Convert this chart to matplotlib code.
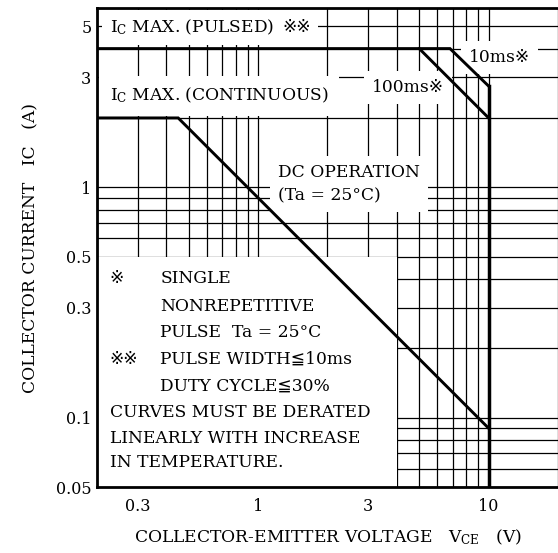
import matplotlib
matplotlib.use("Agg")
import matplotlib.pyplot as plt
from matplotlib.ticker import FixedLocator, FuncFormatter

plt.rcParams['font.family'] = ['DejaVu Serif', 'DejaVu Sans', 'Noto Sans CJK JP']
plt.rcParams['mathtext.fontset'] = 'dejavuserif'

# safe operating area boundaries (V_CE in V, I_C in A)
pulsed_v = [0.2, 6.8, 10]
pulsed_i = [4, 4, 2.75]
ms100_v = [5.0, 10]
ms100_i = [4, 2.0]
dc_v = [0.2, 0.45, 10]
dc_i = [2, 2, 0.09]
vceo_v = [10, 10]
vceo_i = [2.75, 0.05]

x_grid = [0.2, 0.3, 0.4, 0.5, 0.6, 0.7, 0.8, 0.9, 1, 2, 3, 4, 5, 6, 7, 8, 9, 10, 20]
y_grid = [0.05, 0.06, 0.07, 0.08, 0.09, 0.1, 0.2, 0.3, 0.4, 0.5, 0.6, 0.7, 0.8, 0.9,
          1, 2, 3, 4, 5, 6]
x_labels = {0.3: "0.3", 1: "1", 3: "3", 10: "10"}
y_labels = {0.05: "0.05", 0.1: "0.1", 0.3: "0.3", 0.5: "0.5", 1: "1", 3: "3", 5: "5"}

notes = [
    (0.227, 0.40, "※"), (0.376, 0.40, "SINGLE"),
    (0.376, 0.305, "NONREPETITIVE"),
    (0.376, 0.235, "PULSE  Ta = 25°C"),
    (0.227, 0.179, "※※"), (0.376, 0.179, "PULSE WIDTH≦10ms"),
    (0.376, 0.137, "DUTY CYCLE≦30%"),
    (0.227, 0.105, "CURVES MUST BE DERATED"),
    (0.227, 0.081, "LINEARLY WITH INCREASE"),
    (0.227, 0.0636, "IN TEMPERATURE."),
]

fs = 12.3
tfs = 11.5
fig = plt.figure(figsize=(5.58, 5.53), dpi=100)
ax = fig.add_axes([0.1738, 0.1193, 0.8262, 0.8662])
ax.set_xscale("log")
ax.set_yscale("log")
ax.set_xlim(0.2, 20)
ax.set_ylim(0.05, 6)

ax.xaxis.set_major_locator(FixedLocator(x_grid))
ax.yaxis.set_major_locator(FixedLocator(y_grid))
ax.xaxis.set_minor_locator(FixedLocator([]))
ax.yaxis.set_minor_locator(FixedLocator([]))
ax.xaxis.set_major_formatter(FuncFormatter(lambda v, p: next((s for k, s in x_labels.items() if abs(k - v) < 1e-9), "")))
ax.yaxis.set_major_formatter(FuncFormatter(lambda v, p: next((s for k, s in y_labels.items() if abs(k - v) < 1e-9), "")))
ax.tick_params(axis="both", length=0, labelsize=tfs)
ax.tick_params(axis="x", pad=8)
ax.tick_params(axis="y", pad=4)
ax.grid(True, color="black", linewidth=0.9, zorder=1)
ax.set_axisbelow(True)

for s in ["left", "bottom", "top"]:
    ax.spines[s].set_linewidth(2)
ax.spines["right"].set_visible(False)

# notes block hides the grid in the lower left
ax.add_patch(plt.Rectangle((0.2, 0.05), 4.0 - 0.2, 0.5 - 0.05, facecolor="white",
                           edgecolor="none", zorder=2))

lw = 2.1
ax.plot(pulsed_v, pulsed_i, color="black", linewidth=lw, zorder=4, solid_joinstyle="miter")
ax.plot(ms100_v, ms100_i, color="black", linewidth=lw, zorder=4)
ax.plot(dc_v, dc_i, color="black", linewidth=lw, zorder=4, solid_joinstyle="miter")
ax.plot(vceo_v, vceo_i, color="black", linewidth=lw + 0.4, zorder=4)

box = dict(boxstyle="square,pad=0.45", facecolor="white", edgecolor="none")
t = ax.text(0.227, 4.95, r"$\mathrm{I_C}$ MAX. (PULSED)", fontsize=fs, va="center", ha="left",
            bbox=box, zorder=3)
ax.annotate("※※", xy=(1, 0.5), xycoords=t, xytext=(6, 0), textcoords="offset points",
            fontsize=fs, va="center", ha="left", bbox=box, zorder=3)
ax.text(0.227, 2.5, r"$\mathrm{I_C}$ MAX. (CONTINUOUS)", fontsize=fs, va="center", ha="left",
        bbox=dict(boxstyle="square,pad=0.6", facecolor="white", edgecolor="none"), zorder=3)
ax.text(3.12, 2.71, "100ms※", fontsize=fs, va="center", ha="left", bbox=box, zorder=3)
ax.text(8.2, 3.66, "10ms※", fontsize=fs, va="center", ha="left", bbox=box, zorder=3)
ax.text(1.22, 1.03, "DC OPERATION\n(Ta = 25°C)", fontsize=fs, va="center", ha="left",
        linespacing=1.5, bbox=box, zorder=3)

for x, y, s in notes:
    ax.text(x, y, s, fontsize=fs, va="center", ha="left", zorder=5)

ax.set_xlabel(r"COLLECTOR-EMITTER VOLTAGE   $\mathrm{V_{CE}}$   (V)", fontsize=fs, labelpad=9)
ax.set_ylabel("COLLECTOR CURRENT   IC   (A)", fontsize=fs, labelpad=12)

fig.savefig("out.png", dpi=100)
